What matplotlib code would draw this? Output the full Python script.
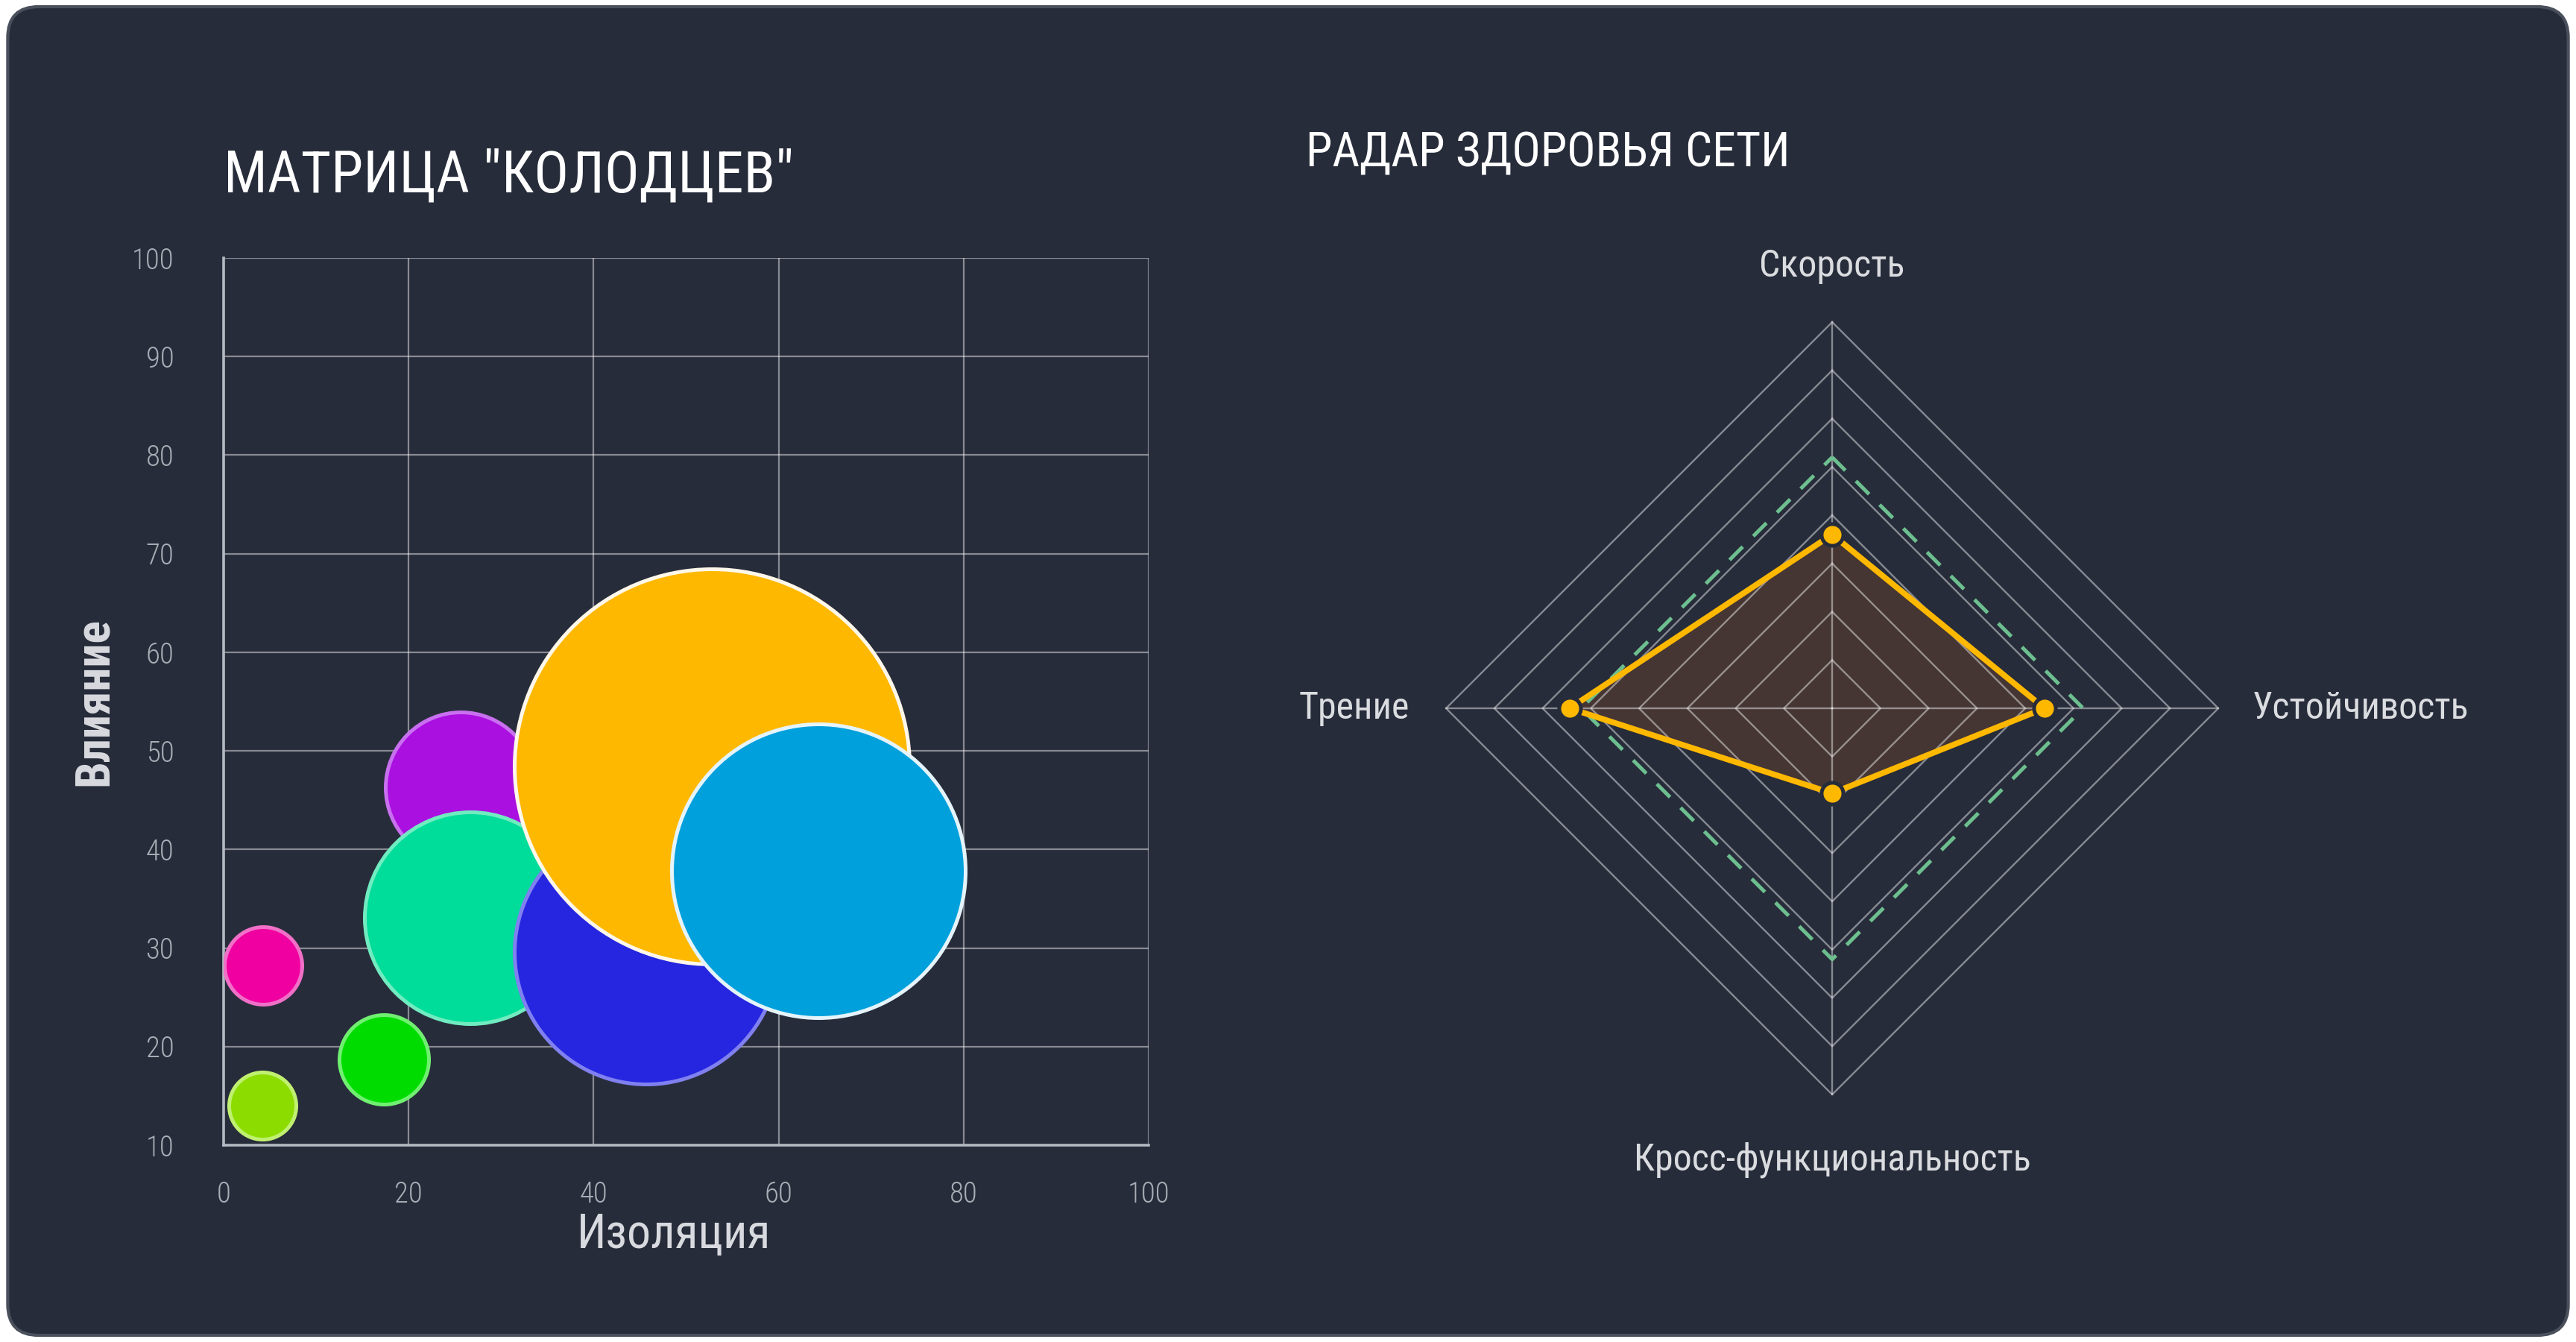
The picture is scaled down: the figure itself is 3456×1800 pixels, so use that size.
import matplotlib
matplotlib.use('Agg')
import matplotlib.pyplot as plt
from matplotlib.patches import FancyBboxPatch
import numpy as np

# Data
bubble_x = [4.3, 4.2, 17.3, 25.6, 26.7, 45.7, 52.8, 64.3]
bubble_y = [28.2, 14.0, 18.7, 46.3, 33.1, 29.6, 48.4, 37.8]
bubble_size = [52, 45, 60, 101, 142, 177, 265, 197]
bubble_colors = ['#F000A0', '#8CDC00', '#00DC00', '#AA10E0', '#00DC9A', '#2626E0', '#FFB800', '#00A0DC']
bubble_edges = ['#F070C8', '#C0F070', '#70F070', '#C870F0', '#70ECC0', '#8080F0', '#FFF8EA', '#E4F4FA']
x_ticks = [0, 20, 40, 60, 80, 100]
y_ticks = [10, 20, 30, 40, 50, 60, 70, 80, 90, 100]

radar_labels = ['Скорость', 'Устойчивость', 'Кросс-функциональность', 'Трение']
radar_values = [45, 55, 22, 68]
radar_target = [65, 65, 65, 65]
radar_max = 100
radar_rings = 8

# Style
bg = '#272C3A'
plt.rcParams['font.family'] = ['Roboto Condensed', 'DejaVu Sans']
plt.rcParams['font.stretch'] = 'condensed'

fig = plt.figure(figsize=(17.28, 9), dpi=200)
fig.patch.set_facecolor('white')
card = FancyBboxPatch((0.003, 0.005), 0.994, 0.99, boxstyle='round,pad=0,rounding_size=0.012',
                      transform=fig.transFigure, facecolor=bg, edgecolor='#4A4F5C', linewidth=1.5,
                      mutation_aspect=1.92, zorder=-10)
fig.patches.append(card)

# Bubble matrix
ax = fig.add_axes([0.0868, 0.1467, 0.3591, 0.6611])
ax.set_facecolor('none')
for x, y, r, c, e in zip(bubble_x, bubble_y, bubble_size, bubble_colors, bubble_edges):
    d = 2 * r * 72 / 200
    ax.scatter([x], [y], s=d ** 2, c=c, edgecolors=e, linewidths=1.8, zorder=3)
ax.set_xlim(0, 100)
ax.set_ylim(10, 100)
ax.set_xticks(x_ticks)
ax.set_yticks(y_ticks)
ax.grid(True, color='white', alpha=0.45, linewidth=0.8, zorder=0)
ax.set_axisbelow(True)
for s in ['top', 'right']:
    ax.spines[s].set_visible(False)
for s in ['left', 'bottom']:
    ax.spines[s].set_color('#B4B8C0')
    ax.spines[s].set_linewidth(1.3)
ax.tick_params(length=0, colors='#A9ADB5', labelsize=14)
ax.tick_params(axis='y', pad=24)
ax.tick_params(axis='x', pad=17)
for lab in ax.get_xticklabels() + ax.get_yticklabels():
    lab.set_fontweight('light')
ax.set_xlabel('Изоляция', color='#D8DADF', fontsize=23, fontweight='normal')
ax.xaxis.set_label_coords(0.487, -0.075)
ax.set_ylabel('Влияние', color='#D8DADF', fontsize=23, fontweight='bold', labelpad=7)
fig.text(0.0868, 0.869, 'МАТРИЦА "КОЛОДЦЕВ"', color='white', fontsize=28, va='center', ha='left')

# Radar
rax = fig.add_axes([0.5087, 0.0833, 0.4051, 0.7778])
rax.set_facecolor('none')
rax.set_aspect('equal')
lim = 700 / 518 * radar_max
rax.set_xlim(-lim, lim)
rax.set_ylim(-lim, lim)
rax.axis('off')

angles = np.pi / 2 - np.arange(len(radar_labels)) * 2 * np.pi / len(radar_labels)
ca, sa = np.cos(angles), np.sin(angles)

vals = np.array(radar_values)
px = np.append(vals * ca, vals[0] * ca[0])
py = np.append(vals * sa, vals[0] * sa[0])
rax.fill(px, py, color='#453634', zorder=1, linewidth=0)

for k in range(1, radar_rings + 1):
    rr = radar_max * k / radar_rings
    rax.plot(np.append(rr * ca, rr * ca[0]), np.append(rr * sa, rr * sa[0]),
             color='white', alpha=0.45, linewidth=0.85, zorder=2)
for c, s in zip(ca, sa):
    rax.plot([0, radar_max * c], [0, radar_max * s], color='white', alpha=0.45, linewidth=0.85, zorder=2)

tv = np.array(radar_target)
rax.plot(np.append(tv * ca, tv[0] * ca[0]), np.append(tv * sa, tv[0] * sa[0]),
         color='#6DBF8F', linewidth=1.8, dashes=(5, 4), zorder=3)
rax.plot(px, py, color='#FFB800', linewidth=2.8, zorder=4)
rax.plot(vals * ca, vals * sa, 'o', color='#FFB800', markersize=10.5, markeredgecolor=bg,
         markeredgewidth=1.8, zorder=5, linestyle='none')

label_cfg = [(0, 114.5, 'center', 'center'), (108.9, 0, 'left', 'center'),
             (0, -117, 'center', 'center'), (-109.5, 0, 'right', 'center')]
for name, (lx, ly, ha, va) in zip(radar_labels, label_cfg):
    rax.text(lx, ly, name, color='#DADCE0', fontsize=18, ha=ha, va=va)

fig.text(0.507, 0.886, 'РАДАР ЗДОРОВЬЯ СЕТИ', color='white', fontsize=23, va='center', ha='left')

fig.savefig('out.png', dpi=200, facecolor=fig.get_facecolor())
